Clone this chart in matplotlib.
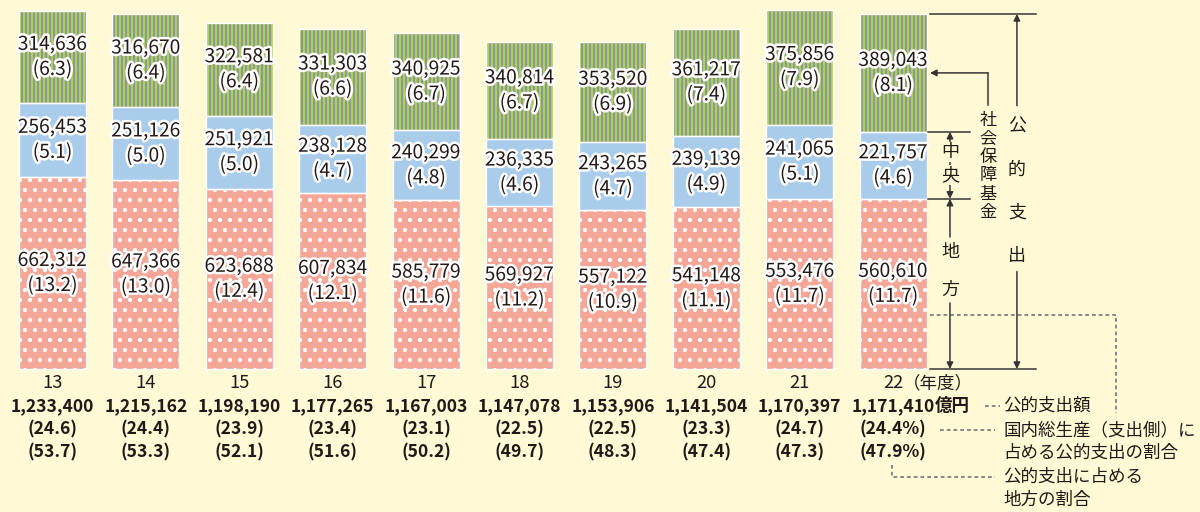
import matplotlib
matplotlib.use('Agg')
import matplotlib.pyplot as plt
import matplotlib.patheffects as pe

plt.rcParams['font.family'] = ['Noto Sans CJK JP', 'DejaVu Sans']

# data (億円, parentheses = % of GDP)
years = [13, 14, 15, 16, 17, 18, 19, 20, 21, 22]
local_amt = [662312, 647366, 623688, 607834, 585779, 569927, 557122, 541148, 553476, 560610]
local_pct = [13.2, 13.0, 12.4, 12.1, 11.6, 11.2, 10.9, 11.1, 11.7, 11.7]
central_amt = [256453, 251126, 251921, 238128, 240299, 236335, 243265, 239139, 241065, 221757]
central_pct = [5.1, 5.0, 5.0, 4.7, 4.8, 4.6, 4.7, 4.9, 5.1, 4.6]
ss_amt = [314636, 316670, 322581, 331303, 340925, 340814, 353520, 361217, 375856, 389043]
ss_pct = [6.3, 6.4, 6.4, 6.6, 6.7, 6.7, 6.9, 7.4, 7.9, 8.1]
total_amt = [1233400, 1215162, 1198190, 1177265, 1167003, 1147078, 1153906, 1141504, 1170397, 1171410]
total_pct = [24.6, 24.4, 23.9, 23.4, 23.1, 22.5, 22.5, 23.3, 24.7, 24.4]
local_share = [53.7, 53.3, 52.1, 51.6, 50.2, 49.7, 48.3, 47.4, 47.3, 47.9]

BG = '#FFF9D6'
PINK = '#F4A697'
BLUE = '#A9CCEB'
GREEN = '#A9D06B'
STRIPE = '#7F7399'
TXT = '#231815'
GRAY = '#666666'

fig = plt.figure(figsize=(10, 512 / 120), dpi=120, facecolor=BG)
ax = fig.add_axes([0, 0, 1, 1])
ax.set_facecolor(BG)
ax.set_xlim(-0.562, 12.286)
ax.set_ylim(-9.828, 25.36)
ax.axis('off')

x = list(range(len(years)))
w = 0.717
mid = [a + b for a, b in zip(local_pct, central_pct)]
top = [a + b for a, b in zip(mid, ss_pct)]

# hatch line width is picked up per artist when it is created
plt.rcParams['hatch.linewidth'] = 1.3
ax.bar(x, local_pct, w, color=PINK, edgecolor='white', hatch='..', lw=0)
ax.bar(x, central_pct, w, bottom=local_pct, color=BLUE, lw=0)
plt.rcParams['hatch.linewidth'] = 0.7
ax.bar(x, ss_pct, w, bottom=mid, color=GREEN, edgecolor=STRIPE, hatch='|||||', lw=0)
# white outlines between segments
ax.bar(x, local_pct, w, fill=False, edgecolor='white', lw=0.8)
ax.bar(x, central_pct, w, bottom=local_pct, fill=False, edgecolor='white', lw=0.8)
ax.bar(x, ss_pct, w, bottom=mid, fill=False, edgecolor='white', lw=0.8)

stroke = [pe.withStroke(linewidth=3, foreground='white')]


def seg_label(xi, center, amt, pct):
    ax.text(xi, center + 0.86, f'{amt:,}', ha='center', va='center',
            fontsize=11.5, color=TXT, path_effects=stroke)
    ax.text(xi, center - 0.86, f'({pct:.1f})', ha='center', va='center',
            fontsize=11.5, color=TXT, path_effects=stroke)


for i in x:
    seg_label(i, local_pct[i] / 2, local_amt[i], local_pct[i])
    seg_label(i, local_pct[i] + central_pct[i] / 2, central_amt[i], central_pct[i])
    seg_label(i, mid[i] + ss_pct[i] / 2, ss_amt[i], ss_pct[i])

# labels under bars
last = len(years) - 1
for i in x:
    t_year = ax.text(i, -0.96, str(years[i]), ha='center', va='center', fontsize=11, color=TXT)
    t_tot = ax.text(i, -2.54, f'{total_amt[i]:,}', ha='center', va='center',
                    fontsize=10.5, weight='bold', color=TXT)
    pct_s = f'({total_pct[i]:.1f}%)' if i == last else f'({total_pct[i]:.1f})'
    sh_s = f'({local_share[i]:.1f}%)' if i == last else f'({local_share[i]:.1f})'
    ax.text(i, -4.19, pct_s, ha='center', va='center', fontsize=10.5, weight='bold', color=TXT)
    ax.text(i, -5.77, sh_s, ha='center', va='center', fontsize=10.5, weight='bold', color=TXT)
    if i == last:
        ax.annotate('（年度）', xy=(1, 0.5), xycoords=t_year, va='center', ha='left',
                    fontsize=10.5, color=TXT)
        ax.annotate('億円', xy=(1, 0.5), xycoords=t_tot, va='center', ha='left',
                    fontsize=10.5, weight='bold', color=TXT)

# right-hand bracket annotations
lc = dict(color='#333333', lw=0.9)
arr = dict(arrowstyle='-|>', color='#333333', lw=0.9, mutation_scale=8, shrinkA=0, shrinkB=0)
y_top = top[last]
y_mid = mid[last]
y_loc = local_pct[last]

ax.plot([9.395, 10.53], [y_top, y_top], **lc)
ax.plot([9.395, 10.53], [0, 0], **lc)
ax.plot([9.373, 9.823], [y_mid, y_mid], **lc)
ax.plot([9.373, 9.823], [y_loc, y_loc], **lc)

# 公的支出
xa = 10.326
ax.annotate('', xy=(xa, y_top), xytext=(xa, 18.1), arrowprops=arr)
ax.annotate('', xy=(xa, 0), xytext=(xa, 6.7), arrowprops=arr)
for k, ch in enumerate('公的支出'):
    ax.text(xa, 16.63 - k * 2.95, ch, ha='center', va='center', fontsize=10.8, color=TXT)

# 中央
xb = 9.609
ax.annotate('', xy=(xb, y_mid), xytext=(xb, (y_mid + y_loc) / 2), arrowprops=arr)
ax.annotate('', xy=(xb, y_loc), xytext=(xb, (y_mid + y_loc) / 2), arrowprops=arr)
box = dict(boxstyle='square,pad=0.05', facecolor=BG, edgecolor='none')
ax.text(xb, 14.91, '中', ha='center', va='center', fontsize=10.8, color=TXT, bbox=box)
ax.text(xb, 13.33, '央', ha='center', va='center', fontsize=10.8, color=TXT, bbox=box)

# 地方
ax.annotate('', xy=(xb, y_loc), xytext=(xb, 9.07), arrowprops=arr)
ax.annotate('', xy=(xb, 0), xytext=(xb, 4.54), arrowprops=arr)
ax.text(xb, 8.04, '地', ha='center', va='center', fontsize=10.8, color=TXT)
ax.text(xb, 5.43, '方', ha='center', va='center', fontsize=10.8, color=TXT)

# 社会保障基金
xc = 10.016
y_ss = y_mid + ss_pct[last] / 2
ax.plot([xc, xc], [18.14, y_ss], **lc)
ax.annotate('', xy=(9.395, y_ss), xytext=(xc, y_ss), arrowprops=arr)
for k, ch in enumerate('社会保障基金'):
    ax.text(xc, 13.95 + (2.5 - k) * 1.26, ch, ha='center', va='center', fontsize=10.3, color=TXT)

# dashed leader lines
dl = dict(color=GRAY, lw=0.9, ls=(0, (2.5, 2)))
ax.plot([9.395, 11.386, 11.386], [3.71, 3.71, -3.02], **dl)
ax.plot([9.984, 10.145], [-2.54, -2.54], **dl)
ax.plot([9.502, 10.091], [-4.19, -4.19], **dl)
ax.plot([8.988, 8.988, 10.091], [-6.6, -7.42, -7.42], **dl)

notes = ['公的支出額', '国内総生産（支出側）に', '占める公的支出の割合', '公的支出に占める', '地方の割合']
note_y = [-2.54, -4.19, -5.77, -7.42, -9.0]
for s, yy in zip(notes, note_y):
    ax.text(10.177, yy, s, ha='left', va='center', fontsize=10.5, color=TXT)

fig.savefig('out.png', dpi=120, facecolor=BG)
